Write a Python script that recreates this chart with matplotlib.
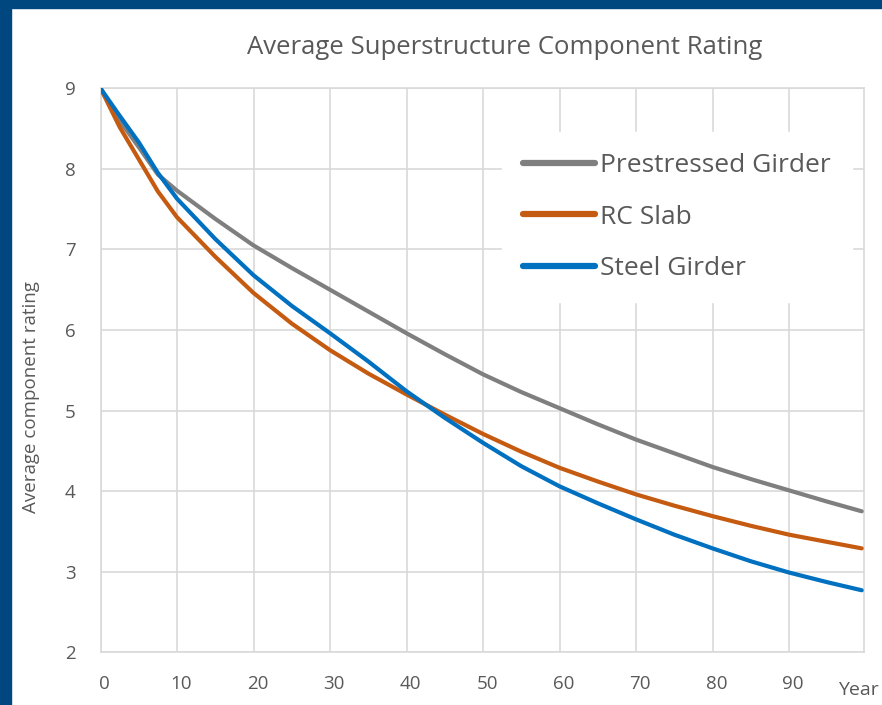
import matplotlib
matplotlib.use('Agg')
import matplotlib.pyplot as plt
from matplotlib.patches import Rectangle
from matplotlib.transforms import ScaledTranslation

# values
years = [0, 2.5, 5, 7.5, 10, 15, 20, 25, 30, 35, 40, 45, 50, 55, 60,
         65, 70, 75, 80, 85, 90, 95, 99.5]
prestressed = [9.00, 8.60, 8.27, 7.93, 7.73, 7.38, 7.05, 6.77, 6.50, 6.23,
               5.96, 5.70, 5.45, 5.23, 5.03, 4.83, 4.64, 4.47, 4.30, 4.15,
               4.01, 3.87, 3.75]
rc_slab = [9.00, 8.52, 8.12, 7.72, 7.40, 6.91, 6.46, 6.08, 5.75, 5.46,
           5.20, 4.95, 4.71, 4.49, 4.29, 4.12, 3.96, 3.82, 3.69, 3.57,
           3.46, 3.37, 3.29]
steel = [9.00, 8.66, 8.33, 7.95, 7.63, 7.13, 6.68, 6.30, 5.96, 5.61,
         5.24, 4.91, 4.60, 4.31, 4.06, 3.85, 3.65, 3.46, 3.29, 3.13,
         2.99, 2.87, 2.77]

series = [
    ('Prestressed Girder', prestressed, '#7f7f7f'),
    ('RC Slab', rc_slab, '#c55a11'),
    ('Steel Girder', steel, '#0070c0'),
]

TXT = '#595959'
GRID = '#d9d9d9'
BORDER = '#00477f'

plt.rcParams['font.family'] = ['Open Sans', 'DejaVu Sans']

fig = plt.figure(figsize=(8.82, 7.05), dpi=100)
fig.patch.set_facecolor('white')

# dark blue frame on top and left
fig.patches.append(Rectangle((0, 1 - 8 / 705), 1, 8 / 705, transform=fig.transFigure,
                             color=BORDER, zorder=0))
fig.patches.append(Rectangle((0, 0), 11 / 882, 1, transform=fig.transFigure,
                             color=BORDER, zorder=0))

ax = fig.add_axes([100.5 / 882, 52.7 / 705, 763.5 / 882, 564 / 705])

for name, vals, col in series:
    ax.plot(years, vals, color=col, linewidth=3.0, label=name,
            solid_capstyle='round', solid_joinstyle='round', zorder=3)

ax.set_xlim(0, 99.8)
ax.set_ylim(2, 9)
ax.set_xticks(range(0, 100, 10))
ax.set_yticks(range(2, 10))
ax.grid(True, color=GRID, linewidth=1.2)
ax.set_axisbelow(True)
for s in ax.spines.values():
    s.set_color(GRID)
    s.set_linewidth(1.2)
ax.tick_params(length=0, labelsize=13.5, labelcolor=TXT)
ax.tick_params(axis='x', pad=16)
ax.tick_params(axis='y', pad=18)
# category-style labels sit a little right of the gridlines
shift = ScaledTranslation(4 / 100, 0, fig.dpi_scale_trans)
for lab in ax.get_xticklabels():
    lab.set_transform(lab.get_transform() + shift)

fig.text(31 / 882, 1 - 397 / 705, 'Average component rating', rotation=90,
         ha='center', va='center', fontsize=13.5, color=TXT)
fig.text(505 / 882, 1 - 48 / 705, 'Average Superstructure Component Rating',
         ha='center', va='center', fontsize=18.5, color=TXT)
fig.text(879 / 882, 1 - 690 / 705, 'Year', ha='right', va='center',
         fontsize=14, color=TXT)

leg = ax.legend(loc='upper left', bbox_to_anchor=(0.526, 0.9225), fontsize=19,
                frameon=True, fancybox=False, edgecolor='white',
                framealpha=1, handlelength=2.73, handletextpad=0.19,
                labelspacing=1.0, borderpad=0.8, borderaxespad=0)
for t in leg.get_texts():
    t.set_color(TXT)
for h in leg.get_lines():
    h.set_linewidth(4.5)

fig.savefig('out.png', dpi=100)
